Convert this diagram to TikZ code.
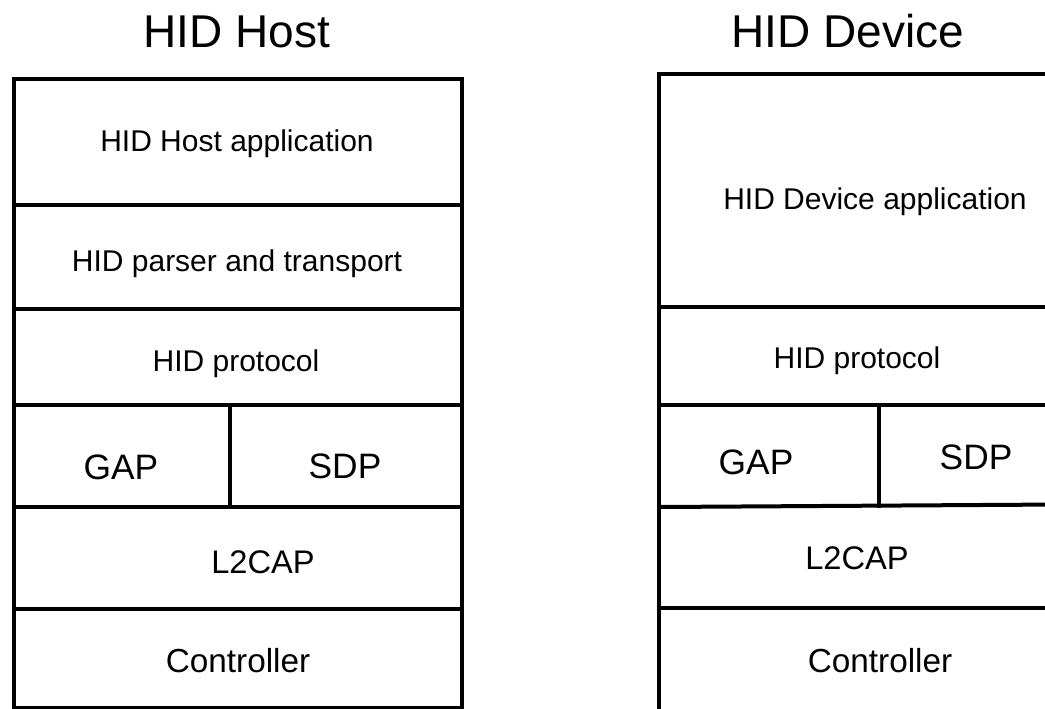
\documentclass[tikz,border=0pt]{standalone}
\usepackage{fontspec}
\setmainfont{Liberation Sans}
\begin{document}
\begin{tikzpicture}[x=0.75pt,y=-0.75pt,
  wall/.style={line width=3pt, line cap=rect},
  lbl/.style={anchor=base, inner sep=0pt, font=\fontsize{22.5pt}{26pt}\selectfont},
  big/.style={anchor=base, inner sep=0pt, font=\fontsize{26.5pt}{30pt}\selectfont},
  lcap/.style={anchor=base, inner sep=0pt, font=\fontsize{24.5pt}{28pt}\selectfont},
  mid/.style={anchor=base, inner sep=0pt, font=\fontsize{25pt}{28pt}\selectfont},
  ttl/.style={anchor=base, inner sep=0pt, font=\fontsize{34.5pt}{38pt}\selectfont}]
\useasboundingbox[fill=white] (0,0) rectangle (1045,708);
% titles
\node[ttl] (thost) at (237,47) {HID Host};
\node[ttl] (tdev) at (848,47) {HID Device};
% left stack
\draw[wall] (13.5,78.5) rectangle (462,707.5);
\draw[wall] (13.5,205) -- (462,205);
\draw[wall] (13.5,309) -- (462,309);
\draw[wall] (13.5,405) -- (462,405);
\draw[wall] (13.5,507) -- (462,507);
\draw[wall] (13.5,609) -- (462,609);
\draw[wall] (230,405) -- (230,507);
\node[lbl] (happ) at (237,151) {HID Host application};
\node[lbl] (hpars) at (237,271) {HID parser and transport};
\node[lbl] (hprot) at (236,371) {HID protocol};
\node[big] (hgap) at (121,479) {GAP};
\node[big] (hsdp) at (345,478) {SDP};
\node[lcap] (hl2) at (263,573) {L2CAP};
\node[mid] (hctl) at (238,672) {Controller};
% right stack
\draw[wall] (1060,74) -- (659,74) -- (659,720);
\draw[wall] (659,307) -- (1060,307);
\draw[wall] (659,405) -- (1060,405);
\draw[wall] (659,507) -- (1060,504.5);
\draw[wall] (659,608) -- (1060,608);
\draw[wall] (879,405) -- (879,506);
\node[lbl] (dapp) at (875,209) {HID Device application};
\node[lbl] (dprot) at (857,368) {HID protocol};
\node[big] (dgap) at (756,474) {GAP};
\node[big] (dsdp) at (976,469) {SDP};
\node[lcap] (dl2) at (857,569) {L2CAP};
\node[mid] (dctl) at (880,672) {Controller};
\end{tikzpicture}
\end{document}
